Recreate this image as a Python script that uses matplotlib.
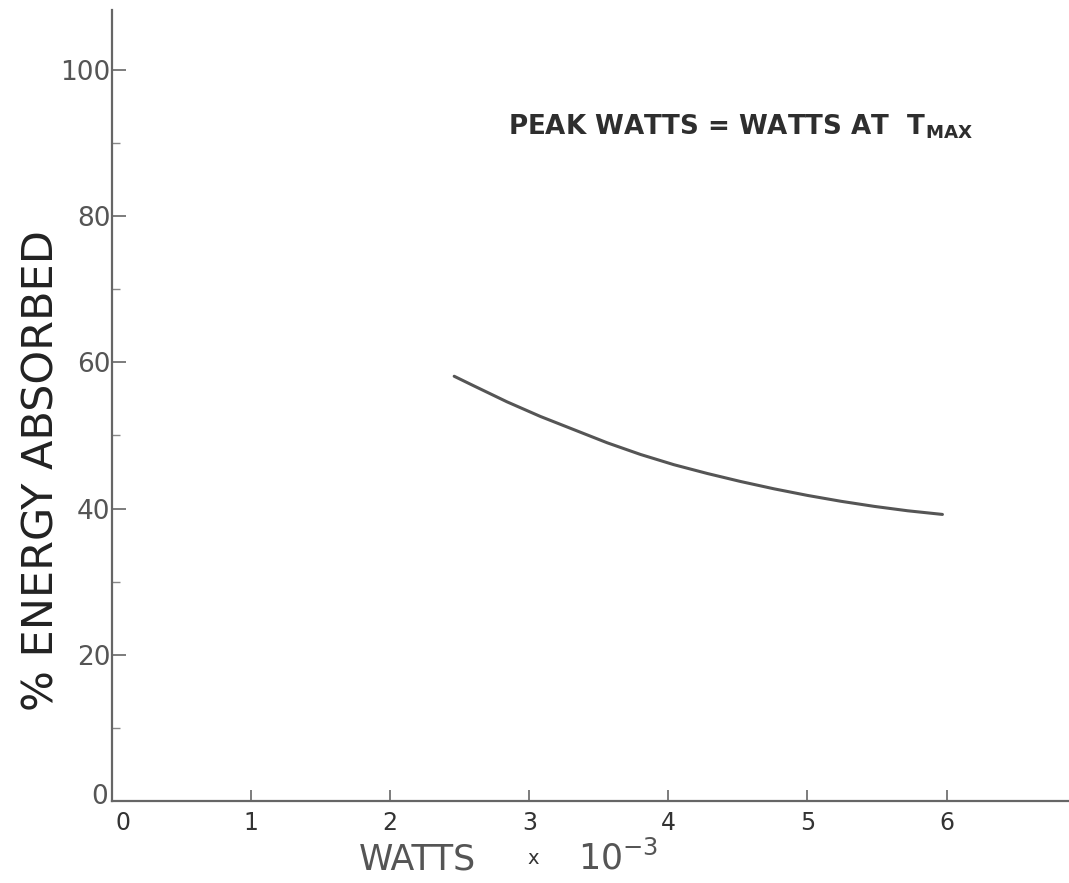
import matplotlib
matplotlib.use("Agg")
import matplotlib.pyplot as plt
from matplotlib.ticker import MultipleLocator
from matplotlib.transforms import ScaledTranslation


matplotlib.rcParams["font.family"] = ["DejaVu Sans"]
matplotlib.rcParams["mathtext.fontset"] = "dejavusans"

# readings
watts = [2.46, 2.60, 2.84, 3.08, 3.32, 3.56, 3.80, 4.04, 4.28,
         4.52, 4.76, 5.00, 5.24, 5.48, 5.72, 5.97]
energy = [58.1, 56.8, 54.6, 52.6, 50.8, 49.0, 47.4, 46.0, 44.8,
          43.7, 42.7, 41.8, 41.0, 40.3, 39.7, 39.2]

x_ticks = [0, 1, 2, 3, 4, 5, 6]
y_ticks = [0, 20, 40, 60, 80, 100]

INK = "#333333"
AXIS = "#666666"


def plot_chart():
    fig = plt.figure(figsize=(10.69, 8.83), dpi=100)
    W, H = 1069, 883
    left, bottom, top = 112, 801, 10
    ax = fig.add_axes([left / W, 1 - bottom / H, 1 - left / W, (bottom - top) / H])

    ax.plot(watts, energy, color="#555555", linewidth=2.2,
            solid_capstyle="round", solid_joinstyle="round")

    ax.set_xlim(0, 6.88)
    ax.set_ylim(0, 108.2)
    ax.set_xticks(x_ticks)
    ax.set_yticks(y_ticks)
    ax.set_xticklabels([str(v) for v in x_ticks])
    ax.set_yticklabels([str(v) for v in y_ticks])
    ax.yaxis.set_minor_locator(MultipleLocator(10))

    for side in ("top", "right"):
        ax.spines[side].set_visible(False)
    for side in ("left", "bottom"):
        ax.spines[side].set_color(AXIS)
        ax.spines[side].set_linewidth(1.6)

    ax.tick_params(axis="x", which="major", direction="in", length=8, width=1.2,
                   color=AXIS, labelsize=17, labelcolor=INK, pad=7)
    ax.tick_params(axis="y", which="major", direction="in", length=10, width=1.2,
                   color=AXIS, labelsize=19, labelcolor="#555555", pad=1)
    ax.tick_params(axis="y", which="minor", direction="in", length=6, width=1.0,
                   color="#888888")

    # origin labels sit apart in the original: x "0" a bit right, y "0" a bit up
    lbl = ax.get_xticklabels()[0]
    lbl.set_transform(lbl.get_transform() + ScaledTranslation(8 / 72, 0, fig.dpi_scale_trans))
    lbl = ax.get_yticklabels()[0]
    lbl.set_transform(lbl.get_transform() + ScaledTranslation(-2 / 72, 5 / 72, fig.dpi_scale_trans))

    ax.set_ylabel("% ENERGY ABSORBED", fontsize=31, color="#222222", labelpad=0)
    ax.yaxis.set_label_coords(-0.052, 0.418)

    # axis title under x, drawn in pieces like the original lettering
    fig.text(417 / W, 1 - 860 / H, "WATTS", fontsize=25, color="#555555",
             ha="center", va="center")
    fig.text(533 / W, 1 - 858 / H, "x", fontsize=14, color=INK,
             ha="center", va="center")
    fig.text(618 / W, 1 - 858 / H, r"10$^{\mathdefault{-3}}$", fontsize=25,
             color="#555555", ha="center", va="center")

    ax.text(0.414, 0.853, r"PEAK WATTS = WATTS AT  T$_{\mathdefault{MAX}}$",
            transform=ax.transAxes, fontsize=18.8, color="#2e2e2e",
            ha="left", va="center", fontweight="bold")

    fig.savefig("out.png", dpi=100)


if __name__ == "__main__":
    plot_chart()
